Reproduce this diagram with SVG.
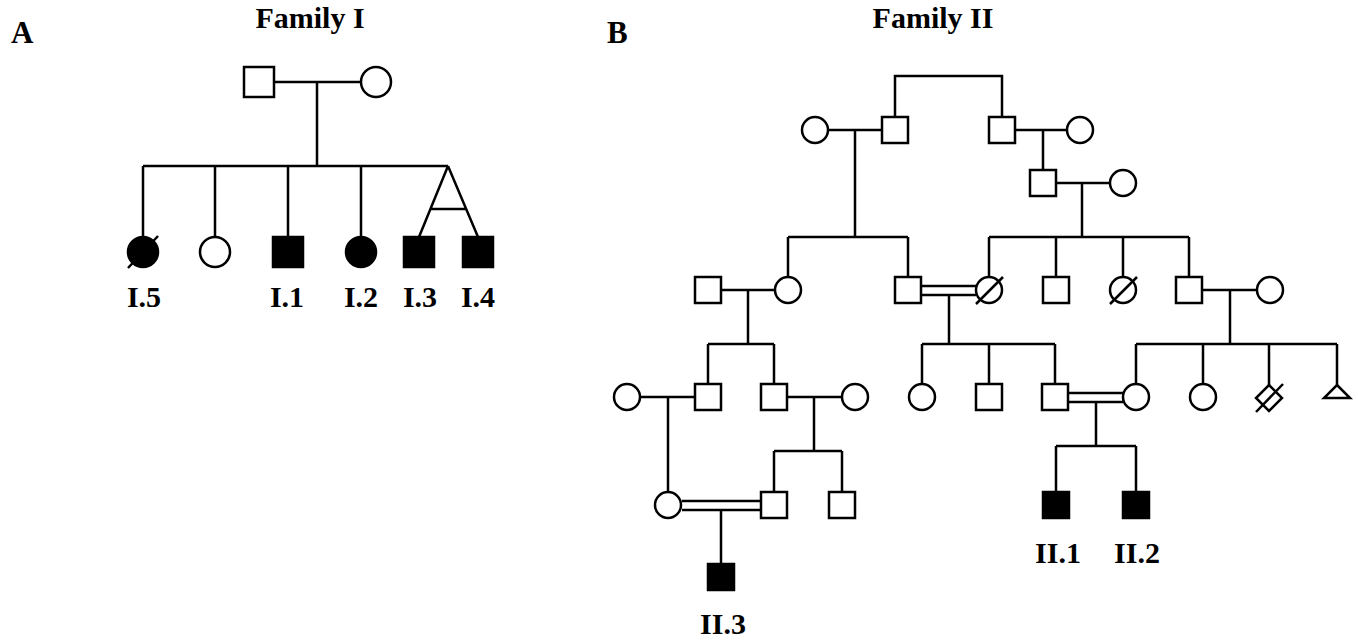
<svg xmlns="http://www.w3.org/2000/svg" width="1358" height="641" viewBox="0 0 1358 641">
<style>
.s{fill:#fff;stroke:#000;stroke-width:2.5}
.f{fill:#000;stroke:#000;stroke-width:2.5}
.l{fill:none;stroke:#000;stroke-width:2.5}
.t{font-family:"Liberation Serif","Times New Roman",serif;font-weight:bold;font-size:30px;fill:#000;text-anchor:middle}
.h{font-family:"Liberation Serif","Times New Roman",serif;font-weight:bold;font-size:31px;fill:#000}
</style>
<rect width="1358" height="641" fill="#fff"/>
<text class="h" x="11" y="43">A</text>
<text class="h" x="607" y="43">B</text>
<text class="t" x="310" y="28">Family I</text>
<text class="t" x="933" y="28">Family II</text>

<g id="connectors">
<!-- Family I -->
<path class="l" d="M274 82H361M317 82V166M143 166H448M143 166V237M215 166V237M288 166V237M361 166V237M448 166L419 237M448 166L478 237M430 209H466"/>
<!-- Family II gen I -->
<path class="l" d="M895 116V76H1002V116M829 130H881M1016 130H1066M1043 130V169M1057 183H1110"/>
<path class="l" d="M855 130V237M788 237H908M788 237V276M908 237V276"/>
<path class="l" d="M1082 183V237M989 237H1189M989 237V276M1056 237V276M1123 237V276M1189 237V276"/>
<!-- gen II -->
<path class="l" d="M722 290H775M748 290V344M708 344H774M708 344V383M774 344V383"/>
<path class="l" d="M922 286H976M922 295H976M949 295V344M922 344H1055M922 344V384M989 344V383M1055 344V383"/>
<path class="l" d="M1203 290H1257M1230 290V344M1136 344H1337M1136 344V384M1203 344V384M1269 344V385M1337 344V385"/>
<!-- gen III -->
<path class="l" d="M641 397H694M668 397V491M788 397H842M814 397V451M774 451H842M774 451V491M842 451V491"/>
<path class="l" d="M1069 393H1123M1069 402H1123M1096 402V446M1056 446H1136M1056 446V491M1136 446V491"/>
<!-- gen IV -->
<path class="l" d="M682 501H760M682 510H760M721 510V564"/>
</g>

<g id="famI-father"><rect class="s" x="244" y="67" width="30" height="30"/></g>
<g id="famI-mother"><circle class="s" cx="376" cy="82" r="15"/></g>
<g id="I5"><circle class="f" cx="143" cy="252" r="15"/><line class="l" x1="128" y1="268" x2="158" y2="236"/></g>
<g id="famI-sister"><circle class="s" cx="215" cy="252" r="15"/></g>
<g id="I1"><rect class="f" x="273" y="237" width="30" height="30"/></g>
<g id="I2"><circle class="f" cx="361" cy="252" r="15"/></g>
<g id="I3"><rect class="f" x="404" y="237" width="30" height="30"/></g>
<g id="I4"><rect class="f" x="463" y="237" width="30" height="30"/></g>
<text class="t" x="144" y="307">I.5</text>
<text class="t" x="287" y="307">I.1</text>
<text class="t" x="361" y="307">I.2</text>
<text class="t" x="420" y="307">I.3</text>
<text class="t" x="478" y="307">I.4</text>

<!-- Family II gen I -->
<g id="g1-w1"><circle class="s" cx="815" cy="130" r="13"/></g>
<g id="g1-m1"><rect class="s" x="882" y="117" width="26" height="26"/></g>
<g id="g1-m2"><rect class="s" x="989" y="117" width="26" height="26"/></g>
<g id="g1-w2"><circle class="s" cx="1080" cy="130" r="13"/></g>
<g id="g1-m3"><rect class="s" x="1030" y="170" width="26" height="26"/></g>
<g id="g1-w3"><circle class="s" cx="1123" cy="183" r="13"/></g>
<!-- gen II -->
<g id="g2-m1"><rect class="s" x="695" y="277" width="26" height="26"/></g>
<g id="g2-w1"><circle class="s" cx="788" cy="290" r="13"/></g>
<g id="g2-m2"><rect class="s" x="895" y="277" width="26" height="26"/></g>
<g id="g2-w2"><circle class="s" cx="989" cy="290" r="13"/><line class="l" x1="976" y1="304" x2="1003" y2="277"/></g>
<g id="g2-m3"><rect class="s" x="1043" y="277" width="26" height="26"/></g>
<g id="g2-w3"><circle class="s" cx="1123" cy="290" r="13"/><line class="l" x1="1110" y1="304" x2="1137" y2="277"/></g>
<g id="g2-m4"><rect class="s" x="1176" y="277" width="26" height="26"/></g>
<g id="g2-w4"><circle class="s" cx="1270" cy="290" r="13"/></g>
<!-- gen III -->
<g id="g3-w1"><circle class="s" cx="627" cy="397" r="13"/></g>
<g id="g3-m1"><rect class="s" x="695" y="384" width="26" height="26"/></g>
<g id="g3-m2"><rect class="s" x="761" y="384" width="26" height="26"/></g>
<g id="g3-w2"><circle class="s" cx="855" cy="397" r="13"/></g>
<g id="g3-w3"><circle class="s" cx="922" cy="397" r="13"/></g>
<g id="g3-m3"><rect class="s" x="976" y="384" width="26" height="26"/></g>
<g id="g3-m4"><rect class="s" x="1042" y="384" width="26" height="26"/></g>
<g id="g3-w4"><circle class="s" cx="1136" cy="397" r="13"/></g>
<g id="g3-w5"><circle class="s" cx="1203" cy="397" r="13"/></g>
<g id="g3-d"><polygon class="s" points="1269,385 1282,398 1269,411 1256,398"/><line class="l" x1="1256" y1="412" x2="1283" y2="384"/></g>
<g id="g3-tri"><polygon class="s" points="1337,385 1350,398 1324,398"/></g>
<!-- gen IV -->
<g id="g4-w1"><circle class="s" cx="668" cy="505" r="13"/></g>
<g id="g4-m1"><rect class="s" x="761" y="492" width="26" height="26"/></g>
<g id="g4-m2"><rect class="s" x="829" y="492" width="26" height="26"/></g>
<g id="II1"><rect class="f" x="1043" y="492" width="26" height="26"/></g>
<g id="II2"><rect class="f" x="1123" y="492" width="26" height="26"/></g>
<g id="II3"><rect class="f" x="708" y="564" width="26" height="26"/></g>
<text class="t" x="1058" y="563">II.1</text>
<text class="t" x="1137" y="563">II.2</text>
<text class="t" x="723" y="634">II.3</text>
</svg>
